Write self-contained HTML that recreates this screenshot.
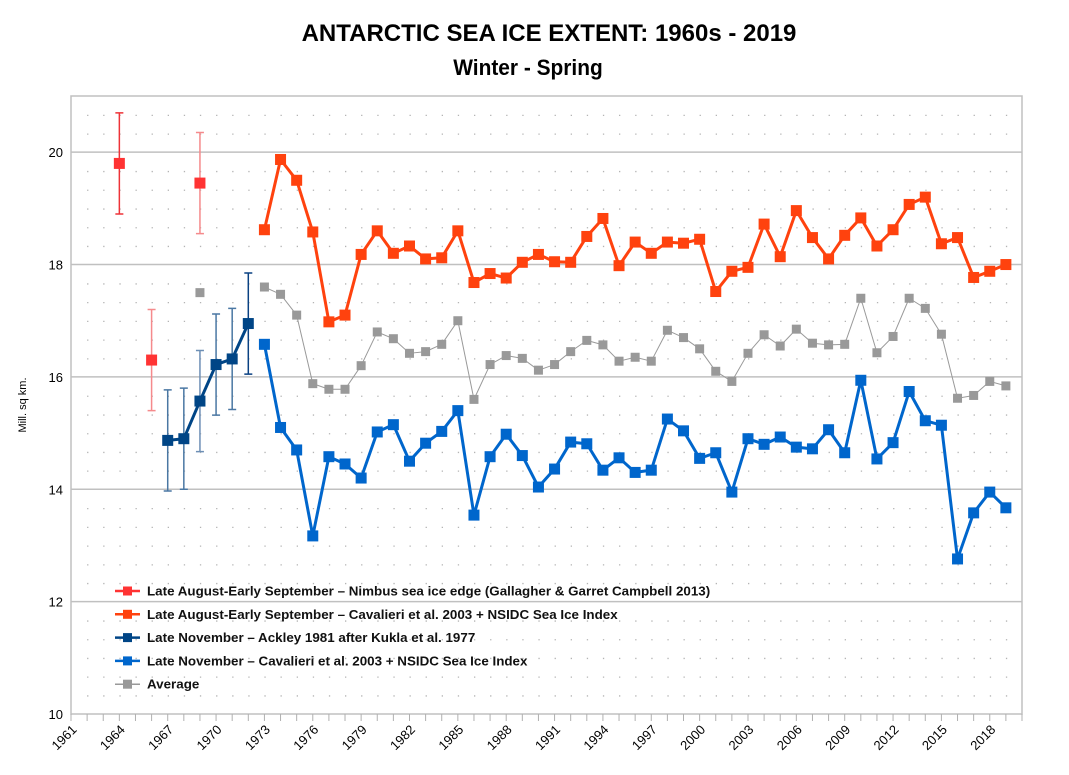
<!DOCTYPE html>
<html><head><meta charset="utf-8"><style>
body{margin:0;background:#fff;}
svg text{font-family:"Liberation Sans",sans-serif;}
</style></head><body>
<svg id="chart" width="1069" height="770" xmlns="http://www.w3.org/2000/svg">
<text x="549" y="41" text-anchor="middle" font-size="24" font-weight="bold">ANTARCTIC SEA ICE EXTENT: 1960s - 2019</text>
<text x="528" y="75" text-anchor="middle" font-size="22" font-weight="bold" transform="translate(528 0) scale(0.95 1) translate(-528 0)">Winter - Spring</text>
<text x="0" y="0" font-size="11" text-anchor="middle" transform="translate(26 405) rotate(-90)">Mill. sq km.</text>
<g id="grid"></g><g id="axes"></g><g id="series"></g><g id="legend"></g>
</svg>
<script>
const nimbusYears=[1964,1966,1969];
const nimbusVals=[19.8,16.3,19.45];
const nimbusErr=[0.9,0.9,0.9];
const ackleyYears=[1967,1968,1969,1970,1971,1972];
const ackleyVals=[14.87,14.9,15.57,16.22,16.32,16.95];
const ackleyErr=[0.9,0.9,0.9,0.9,0.9,0.9];
const modernStart=1973;
const augVals=[18.62,19.87,19.5,18.58,16.98,17.1,18.18,18.6,18.2,18.33,18.1,18.12,18.6,17.68,17.84,17.76,18.04,18.18,18.05,18.04,18.5,18.82,17.98,18.4,18.2,18.4,18.38,18.45,17.52,17.88,17.95,18.72,18.14,18.96,18.48,18.1,18.52,18.83,18.33,18.62,19.07,19.2,18.37,18.48,17.77,17.88,18.0];
const novVals=[16.58,15.1,14.7,13.17,14.58,14.45,14.2,15.02,15.15,14.5,14.82,15.03,15.4,13.54,14.58,14.98,14.6,14.04,14.36,14.84,14.81,14.34,14.56,14.3,14.34,15.25,15.04,14.55,14.65,13.95,14.9,14.8,14.93,14.75,14.72,15.06,14.65,15.94,14.54,14.83,15.74,15.22,15.14,12.76,13.58,13.95,13.67];
const avgVals=[17.6,17.47,17.1,15.88,15.78,15.78,16.2,16.8,16.68,16.42,16.45,16.58,17.0,15.6,16.22,16.38,16.33,16.12,16.22,16.45,16.65,16.57,16.28,16.35,16.28,16.83,16.7,16.5,16.1,15.92,16.42,16.75,16.55,16.85,16.6,16.57,16.58,17.4,16.43,16.72,17.4,17.22,16.76,15.62,15.67,15.92,15.84];
const avgEarlyYears=[1969];
const avgEarlyVals=[17.5];
const yTicks=[10,12,14,16,18,20];
const xTickLabels=[1961,1964,1967,1970,1973,1976,1979,1982,1985,1988,1991,1994,1997,2000,2003,2006,2009,2012,2015,2018];
const legendLabels=["Late August-Early September – Nimbus sea ice edge (Gallagher & Garret Campbell 2013)","Late August-Early September – Cavalieri et al. 2003 + NSIDC Sea Ice Index","Late November – Ackley 1981 after Kukla et al. 1977","Late November – Cavalieri et al. 2003 + NSIDC Sea Ice Index","Average"];

const L=71,R=1022,T=96,B=714,X0=1961,X1=2020,Y0=10,Y1=21;
const xs=y=>L+(y-X0)*(R-L)/(X1-X0);
const ys=v=>B-(v-Y0)*(B-T)/(Y1-Y0);
const NS="http://www.w3.org/2000/svg";
function mk(tag,attrs,parent){const e=document.createElementNS(NS,tag);for(const k in attrs)e.setAttribute(k,attrs[k]);parent.appendChild(e);return e;}
const grid=document.getElementById('grid'),axes=document.getElementById('axes'),ser=document.getElementById('series'),leg=document.getElementById('legend');
let d='';
for(let yr=X0+1;yr<X1;yr++){for(let k=1;k<(Y1-Y0)*3;k++){const v=Y0+k/3;if(k%6===0)continue;d+=`M${xs(yr).toFixed(1)} ${ys(v).toFixed(1)}h1.3v1.3h-1.3z`;}}
const dots=mk('path',{d:d,fill:'#b4b4b4'},grid);


yTicks.forEach(v=>{
 if(v>Y0){const g=mk('line',{x1:L,x2:R,y1:ys(v),y2:ys(v),stroke:'#c0c0c0','stroke-width':1.5},grid);
 
 }
 const t=mk('text',{x:L-8,y:ys(v)+5,'text-anchor':'end','font-size':13},axes);t.textContent=v;
 
 
});
const frame=mk('rect',{x:L,y:T,width:R-L,height:B-T,fill:'none',stroke:'#c0c0c0','stroke-width':1.5},axes);


for(let yr=X0;yr<=X1;yr++){const tk=mk('line',{x1:xs(yr),x2:xs(yr),y1:B,y2:B+7,stroke:'#b0b0b0','stroke-width':1},axes);
 
 }
xTickLabels.forEach(yr=>{const x=xs(yr),y=B+10;
 const t=mk('text',{x:x,y:y,'text-anchor':'end','font-size':13,transform:`rotate(-45 ${x} ${y})`,dy:'0.7em'},axes);t.textContent=yr;
 
 });
function errBars(years,vals,errs,colors){years.forEach((yr,i)=>{const x=xs(yr),a=ys(vals[i]+errs[i]),b=ys(vals[i]-errs[i]);
 const g=mk('path',{d:`M${x} ${a}V${b}M${x-4} ${a}h8M${x-4} ${b}h8`,stroke:colors[i],'stroke-width':1.5,fill:'none'},ser);
 
 });}
function line(years,vals,color,w,name){const p=mk('polyline',{points:years.map((y,i)=>xs(y)+','+ys(vals[i])).join(' '),fill:'none',stroke:color,'stroke-width':w,'stroke-linejoin':'round'},ser);
 
 }
function markers(years,vals,color,s,name){years.forEach((y,i)=>{const r=mk('rect',{x:xs(y)-s/2,y:ys(vals[i])-s/2,width:s,height:s,fill:color},ser);
 
 });}
const modYears=augVals.map((_,i)=>modernStart+i);
errBars(nimbusYears,nimbusVals,nimbusErr,['#ee3338','#f58a8c','#f58a8c']);
errBars(ackleyYears,ackleyVals,ackleyErr,['#4a77a3','#4a77a3','#6d8fb5','#4a77a3','#4a77a3','#0a4182']);
line(modYears,avgVals,'#999999',1,'average');
markers(modYears,avgVals,'#999999',9,'average');
markers(avgEarlyYears,avgEarlyVals,'#999999',9,'average-early');
line(modYears,augVals,'#ff420e',3,'aug-sep-cavalieri');
markers(modYears,augVals,'#ff420e',11,'aug-sep-cavalieri');
markers(nimbusYears,nimbusVals,'#ff3333',11,'nimbus');
line(modYears,novVals,'#0066cc',3,'nov-cavalieri');
markers(modYears,novVals,'#0066cc',11,'nov-cavalieri');
line(ackleyYears,ackleyVals,'#004586',3,'ackley');
markers(ackleyYears,ackleyVals,'#004586',11,'ackley');
const legColors=['#ff3333','#ff420e','#004586','#0066cc','#999999'];
legendLabels.forEach((lab,i)=>{const y=591+i*23.3;
 const g=mk('g',{},leg);
 
 
 mk('line',{x1:115,x2:140,y1:y,y2:y,stroke:legColors[i],'stroke-width':i===4?1.5:2.5},g);
 mk('rect',{x:123,y:y-4.5,width:9,height:9,fill:legColors[i]},g);
 const t=mk('text',{x:147,y:y+4.5,'font-size':13,'font-weight':'bold',transform:`translate(147 0) scale(1.03 1) translate(-147 0)`,fill:'#111'},g);t.textContent=lab;});
</script>
</body></html>
